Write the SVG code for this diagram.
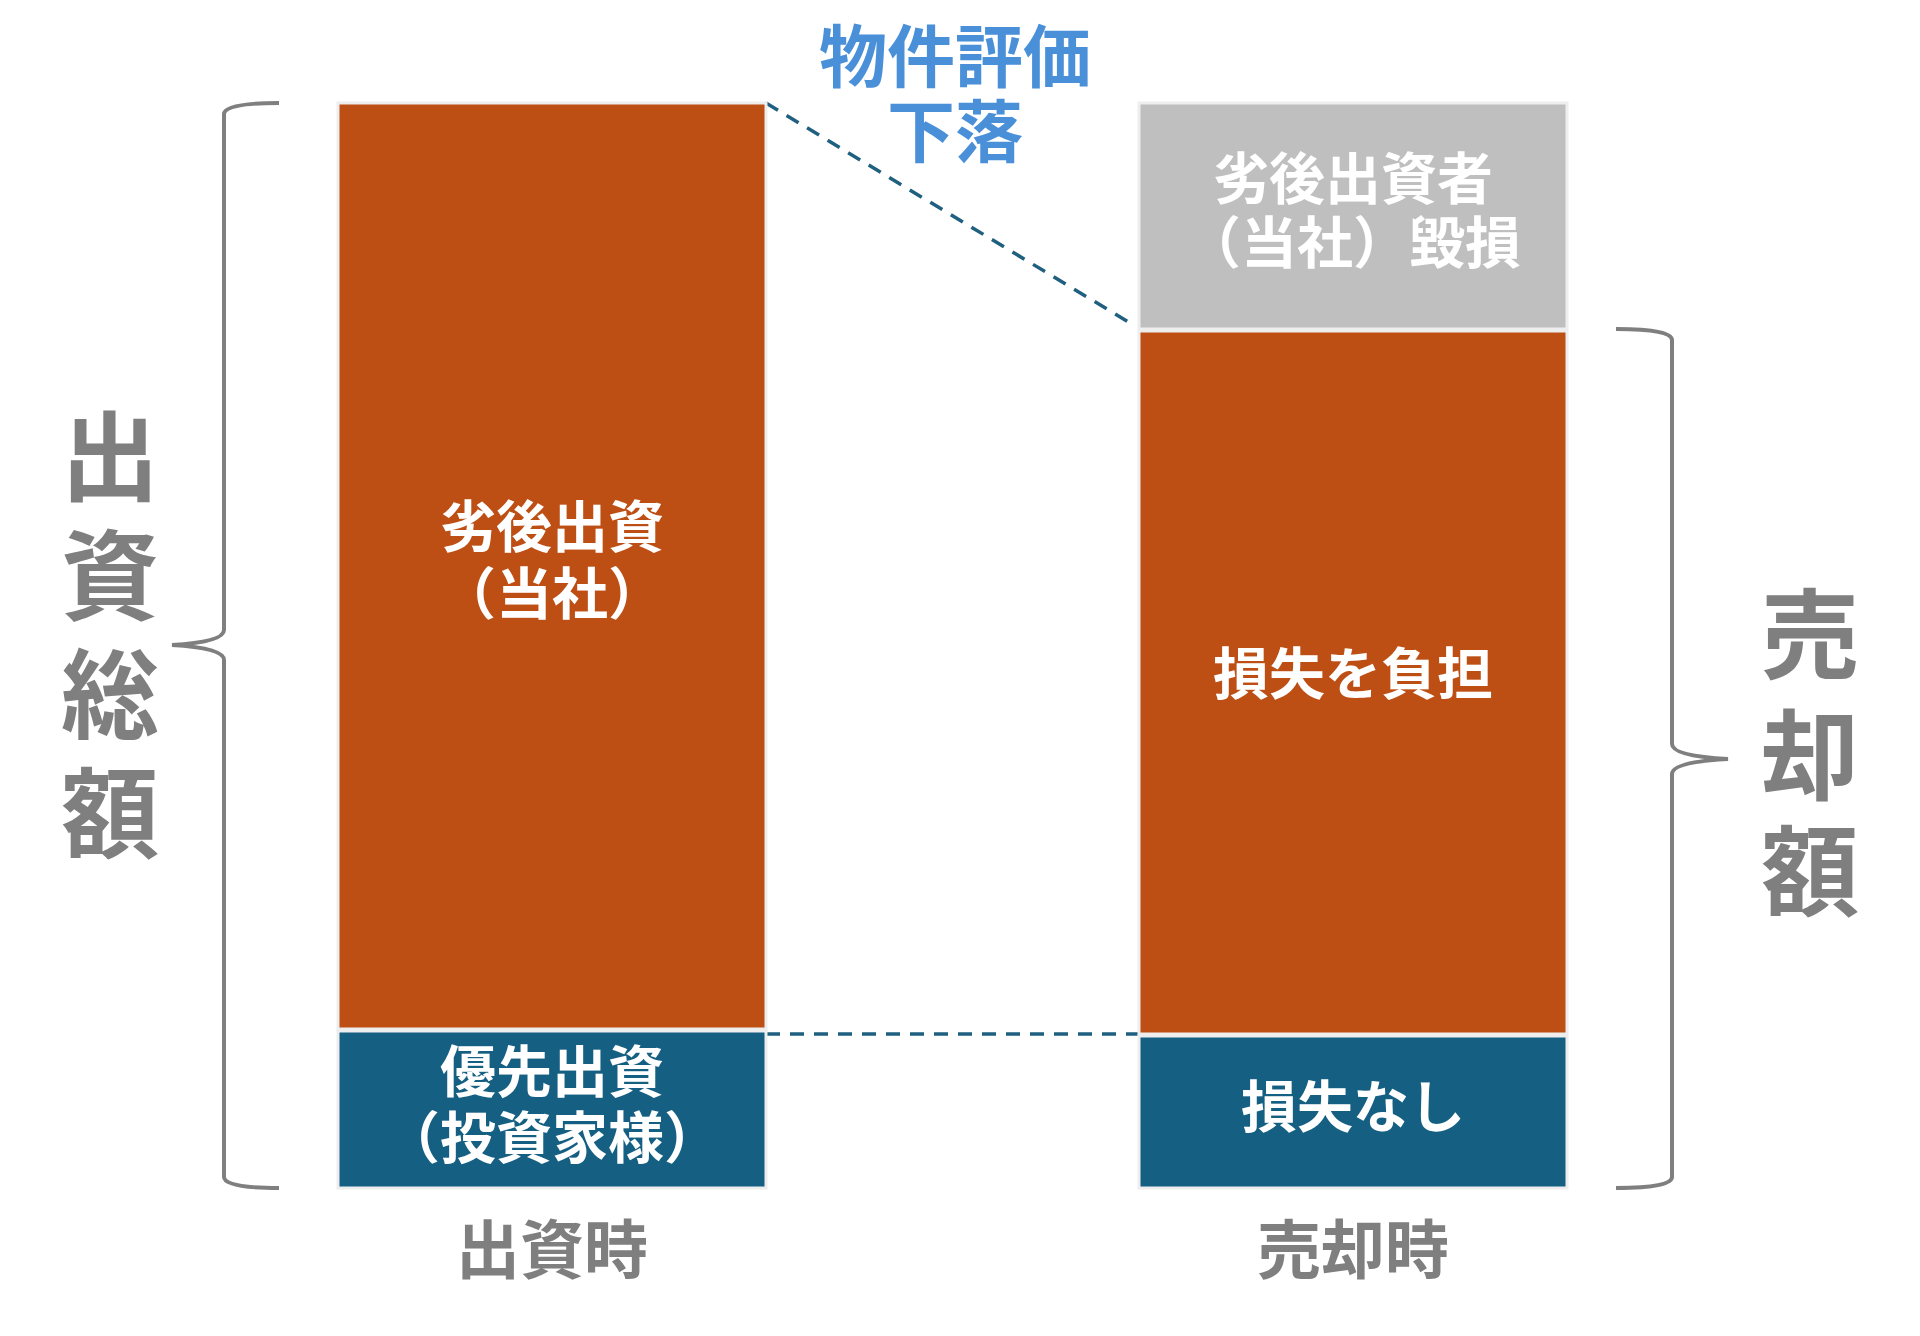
<svg xmlns="http://www.w3.org/2000/svg" width="1920" height="1336" viewBox="0 0 1920 1336">
<style>
text{font-family:"Noto Sans CJK JP",sans-serif;font-weight:bold;text-anchor:middle;dominant-baseline:central}
.w{fill:#fff;font-size:56px}
.g{fill:#7f7f7f}
.bar{stroke:#eeeeee;stroke-width:3}
.br{fill:none;stroke:#7f7f7f;stroke-width:4}
.d{stroke:#1f5f7f;stroke-width:3.5;stroke-dasharray:14 10;fill:none}
</style>
<rect width="1920" height="1336" fill="#fff"/>
<g id="connectors">
<path class="d" d="M766 103 L1135 326"/>
<path class="d" d="M766 1034 L1139 1034"/>
</g>
<g id="left-brace"><path class="br" d="M279 103 Q224 103 224 114 L224 630 Q224 642 172 645 Q224 648 224 660 L224 1177 Q224 1188 279 1188"/></g>
<g id="right-brace"><path class="br" d="M1616 329 Q1672 329 1672 340 L1672 744 Q1672 756 1728 759 Q1672 762 1672 774 L1672 1177 Q1672 1188 1616 1188"/></g>
<g id="left-orange"><rect class="bar" x="338" y="103" width="428" height="926" fill="#BE4F14"/><text class="w" x="552" y="522">劣後出資</text><text class="w" x="552" y="589">（当社）</text></g>
<g id="left-blue"><rect class="bar" x="338" y="1031" width="428" height="157" fill="#155F82"/><text class="w" x="552" y="1067">優先出資</text><text class="w" x="552" y="1133">（投資家様）</text></g>
<g id="right-gray"><rect class="bar" x="1139" y="103" width="428" height="226" fill="#BFBFBF"/><text class="w" x="1353" y="174">劣後出資者</text><text class="w" x="1353" y="238">（当社）毀損</text></g>
<g id="right-orange"><rect class="bar" x="1139" y="331" width="428" height="703" fill="#BE4F14"/><text class="w" x="1353" y="669">損失を負担</text></g>
<g id="right-blue"><rect class="bar" x="1139" y="1036" width="428" height="152" fill="#155F82"/><text class="w" x="1353" y="1102">損失なし</text></g>
<g id="label-drop"><text x="955" y="52" font-size="68" fill="#4A90D9">物件評価</text><text x="955" y="127" font-size="68" fill="#4A90D9">下落</text></g>
<g id="label-total"><text class="g" x="110" y="450" font-size="98">出</text><text class="g" x="110" y="569" font-size="98">資</text><text class="g" x="110" y="688" font-size="98">総</text><text class="g" x="110" y="807" font-size="98">額</text></g>
<g id="label-sale"><text class="g" x="1810" y="628" font-size="98">売</text><text class="g" x="1810" y="749" font-size="98">却</text><text class="g" x="1810" y="865" font-size="98">額</text></g>
<g id="label-times"><text class="g" x="552" y="1245" font-size="64">出資時</text><text class="g" x="1353" y="1245" font-size="64">売却時</text></g>
</svg>
